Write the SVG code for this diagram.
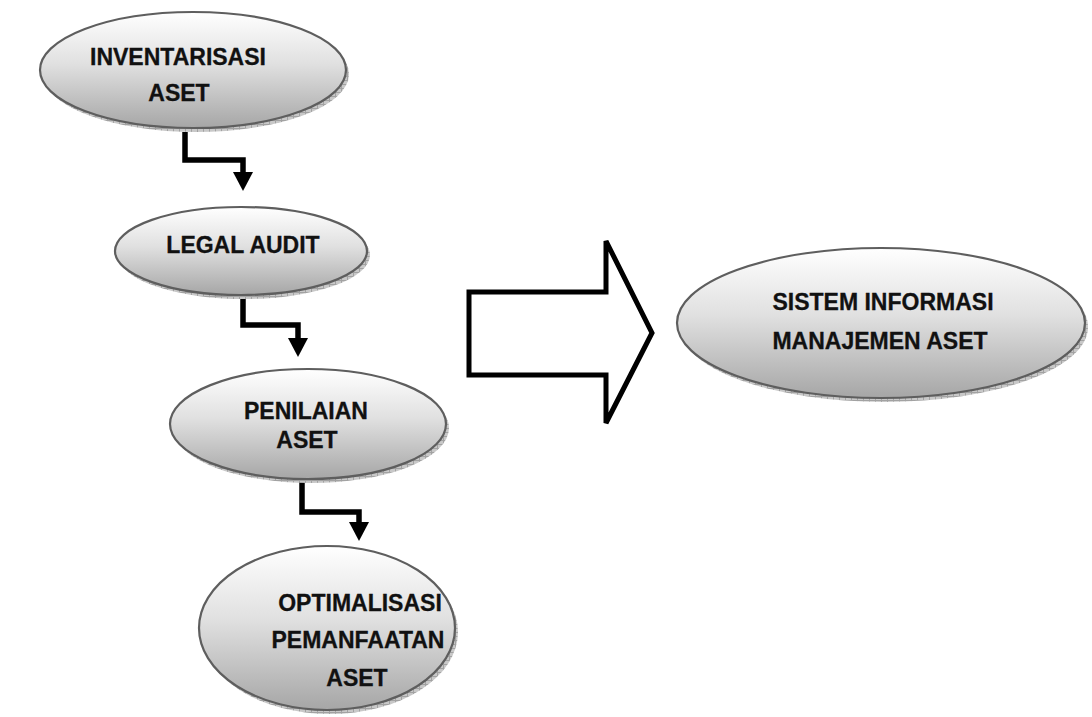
<svg xmlns="http://www.w3.org/2000/svg" width="1092" height="717" viewBox="0 0 1092 717">
  <defs>
    <linearGradient id="bodyFill" x1="0" y1="0" x2="0" y2="1">
      <stop offset="0" stop-color="#ffffff"/>
      <stop offset="0.45" stop-color="#e0e0e0"/>
      <stop offset="1" stop-color="#a6a6a6"/>
    </linearGradient>
    <pattern id="shadowTex" width="6" height="4" patternUnits="userSpaceOnUse">
      <rect width="6" height="4" fill="#c8c8c8"/>
      <path d="M0 0.5H6M5.5 0V4" stroke="#a2a2a2" stroke-width="1"/>
    </pattern>
  </defs>
  <style>
    .shadow { fill: url(#shadowTex); }
    .body { fill: url(#bodyFill); stroke: #5e5e5e; stroke-width: 2.2; }
    .label { font-family: "Liberation Sans", Arial, sans-serif; font-weight: bold; font-size: 23px; fill: #111; stroke: #111; stroke-width: 0.3; text-anchor: middle; }
    .elbow { fill: none; stroke: #000; stroke-width: 5.5; stroke-linejoin: miter; }
    .bigarrow { fill: #fff; stroke: #000; stroke-width: 5; stroke-linejoin: miter; }
  </style>

  <rect width="1092" height="717" fill="#fff"/>

  <g id="connectors">
    <path class="elbow" d="M185 132V160H243V172"/>
    <path d="M233 172H253L243 191Z" fill="#000"/>
    <path class="elbow" d="M243 295V325H298V338"/>
    <path d="M288 338H308L298 357Z" fill="#000"/>
    <path class="elbow" d="M302 478V512H359V522"/>
    <path d="M349 522H369L359 541Z" fill="#000"/>
    <path class="bigarrow" d="M469 292H606V241L652 333L606 423V375H469Z"/>
  </g>

  <g id="inventarisasi">
    <ellipse class="shadow" cx="196" cy="74" rx="153" ry="58"/>
    <ellipse class="body" cx="193" cy="70" rx="153" ry="58"/>
    <text class="label" x="178" y="65">INVENTARISASI</text>
    <text class="label" x="179" y="101">ASET</text>
  </g>

  <g id="legal-audit">
    <ellipse class="shadow" cx="244" cy="255" rx="126" ry="44"/>
    <ellipse class="body" cx="241" cy="251" rx="126" ry="44"/>
    <text class="label" x="243" y="253">LEGAL AUDIT</text>
  </g>

  <g id="penilaian">
    <ellipse class="shadow" cx="311" cy="428" rx="138" ry="55"/>
    <ellipse class="body" cx="308" cy="424" rx="138" ry="55"/>
    <text class="label" x="306" y="419">PENILAIAN</text>
    <text class="label" x="307" y="448">ASET</text>
  </g>

  <g id="optimalisasi">
    <ellipse class="shadow" cx="330" cy="632" rx="128" ry="82"/>
    <ellipse class="body" cx="327" cy="628" rx="128" ry="82"/>
    <text class="label" x="360" y="611">OPTIMALISASI</text>
    <text class="label" x="358" y="648">PEMANFAATAN</text>
    <text class="label" x="357" y="686">ASET</text>
  </g>

  <g id="sistem-informasi">
    <ellipse class="shadow" cx="884" cy="327" rx="204" ry="75"/>
    <ellipse class="body" cx="881" cy="323" rx="204" ry="75"/>
    <text class="label" x="883" y="310">SISTEM INFORMASI</text>
    <text class="label" x="880" y="349">MANAJEMEN ASET</text>
  </g>
</svg>
